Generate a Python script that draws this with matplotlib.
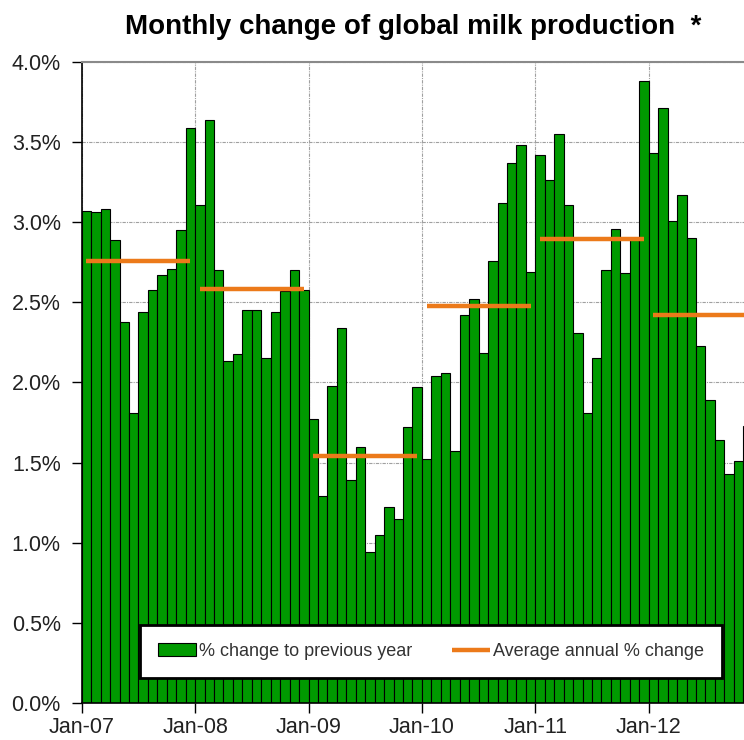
import matplotlib.pyplot as plt
import numpy as np

# monthly % change to previous year, Jan-07 .. Nov-12
y2007 = [3.07, 3.065, 3.08, 2.89, 2.38, 1.81, 2.44, 2.58, 2.67, 2.71, 2.95, 3.59]
y2008 = [3.11, 3.64, 2.70, 2.135, 2.18, 2.455, 2.455, 2.15, 2.44, 2.57, 2.70, 2.58]
y2009 = [1.77, 1.29, 1.98, 2.34, 1.39, 1.60, 0.94, 1.05, 1.22, 1.15, 1.72, 1.97]
y2010 = [1.52, 2.04, 2.06, 1.57, 2.42, 2.52, 2.185, 2.76, 3.12, 3.37, 3.485, 2.69]
y2011 = [3.42, 3.265, 3.55, 3.11, 2.31, 1.81, 2.155, 2.70, 2.96, 2.685, 2.89, 3.88]
y2012 = [3.435, 3.71, 3.005, 3.17, 2.90, 2.23, 1.89, 1.64, 1.43, 1.51, 1.73]

# average annual % change
years = ["07", "08", "09", "10", "11", "12"]
averages = [2.76, 2.585, 1.54, 2.475, 2.895, 2.42]

monthly = y2007 + y2008 + y2009 + y2010 + y2011 + y2012
x = np.arange(len(monthly))

GREEN = "#009a00"
ORANGE = "#ec7a1a"

plt.rcParams['font.family'] = ['Liberation Sans', 'DejaVu Sans']
fig = plt.figure(figsize=(7.44, 7.40), dpi=100)
ax = fig.add_axes([81.7/744, 1 - 703/740, 1 - 81.7/744, (703 - 62)/740])

bars = ax.bar(x, monthly, width=1.0, color=GREEN, edgecolor="black", linewidth=0.8, zorder=2)

avg_line = None
for k, avg in enumerate(averages):
	xs = np.arange(12) + 12*k
	avg_line, = ax.plot(xs, [avg]*12, color=ORANGE, lw=3.2, solid_capstyle="butt", zorder=3)

ax.set_xlim(-0.5, 69.58)
ax.set_ylim(0, 4.0)

ax.set_yticks(np.arange(0, 4.01, 0.5))
ax.set_yticklabels(["%.1f%%" % v for v in np.arange(0, 4.01, 0.5)])
ax.set_xticks(-0.5 + 12*np.arange(len(years)))
ax.set_xticklabels(["Jan-" + y for y in years])
ax.tick_params(axis="both", labelsize=15.5, labelcolor="#222222", length=7, width=1, direction="out")
ax.tick_params(axis="y", pad=8)
ax.tick_params(axis="x", pad=3)

ax.grid(True, color="#a0a0a0", linestyle=(0, (3, 1, 1, 1)), linewidth=0.8, zorder=0)
ax.set_axisbelow(True)

ax.spines["top"].set_color("#8a8a8a")
ax.spines["top"].set_linewidth(1.5)
ax.spines["right"].set_visible(False)
ax.spines["left"].set_linewidth(1.2)
ax.spines["bottom"].set_linewidth(1.2)

ax.set_title("Monthly change of global milk production  *", fontsize=20,
	fontweight="bold", pad=20)

leg = ax.legend([bars, avg_line], ["% change to previous year", "Average annual % change"],
	loc="lower left", bbox_to_anchor=(0.088, 0.039, 0.879, 0.086), mode="expand",
	ncol=2, fontsize=13, frameon=True, fancybox=False, edgecolor="black",
	handlelength=2.1, handletextpad=0.15, borderaxespad=0, borderpad=1.0)
leg.get_frame().set_linewidth(2)
leg.get_frame().set_alpha(1)
for t in leg.get_texts():
	t.set_color("#333333")

plt.savefig("out.png")
